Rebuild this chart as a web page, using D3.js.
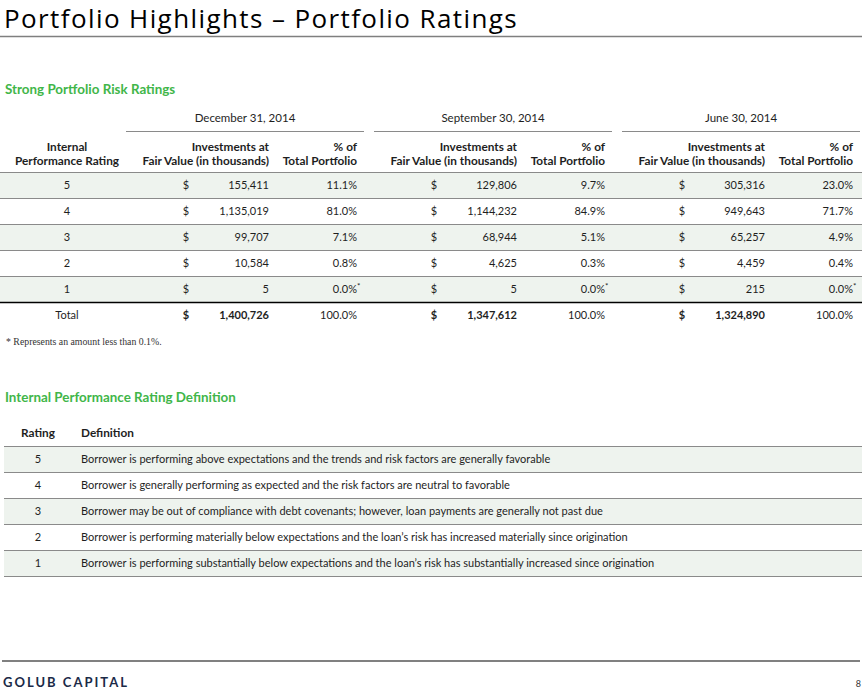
<!DOCTYPE html>
<html>
<head>
<meta charset="utf-8">
<script src="https://cdn.jsdelivr.net/npm/d3@7"></script>
<style>
  body { margin: 0; background: #fff; }
  svg { display: block; font-family: Lato, "Open Sans", sans-serif; }
</style>
</head>
<body>
<svg id="page"></svg>
<script>
// ---- data ----
const ratings = [5, 4, 3, 2, 1];
const periods = ['December 31, 2014', 'September 30, 2014', 'June 30, 2014'];
const fairValueDec = [155411, 1135019, 99707, 10584, 5];
const fairValueSep = [129806, 1144232, 68944, 4625, 5];
const fairValueJun = [305316, 949643, 65257, 4459, 215];
const pctDec = [11.1, 81.0, 7.1, 0.8, 0.0];
const pctSep = [9.7, 84.9, 5.1, 0.3, 0.0];
const pctJun = [23.0, 71.7, 4.9, 0.4, 0.0];
const totalValues = [1400726, 1347612, 1324890];
const totalPct = [100.0, 100.0, 100.0];
const lessThanTenth = [false, false, false, false, true];
const definitions = [
    'Borrower is performing above expectations and the trends and risk factors are generally favorable',
    'Borrower is generally performing as expected and the risk factors are neutral to favorable',
    'Borrower may be out of compliance with debt covenants; however, loan payments are generally not past due',
    'Borrower is performing materially below expectations and the loan\u2019s risk has increased materially since origination',
    'Borrower is performing substantially below expectations and the loan\u2019s risk has substantially increased since origination'
];

const values = [fairValueDec, fairValueSep, fairValueJun];
const pcts = [pctDec, pctSep, pctJun];

const width = 868;
const height = 693;
const green = '#41b649';
const shade = '#eef3ee';
const ink = '#1e1e1e';
const rule = '#8a8a8a';

const fmtValue = d3.format(',');
const fmtPct = d3.format('.1f');

const svg = d3.select('#page')
    .attr('width', width)
    .attr('height', height);

// ---- title ----
svg.append('text')
    .attr('x', 4)
    .attr('y', 28)
    .attr('font-family', '"Open Sans", sans-serif')
    .attr('font-size', 26)
    .attr('letter-spacing', 1.4)
    .attr('fill', '#000')
    .text('Portfolio Highlights \u2013 Portfolio Ratings');

svg.append('line')
    .attr('x1', 0).attr('x2', 862)
    .attr('y1', 36.5).attr('y2', 36.5)
    .attr('stroke', '#7f7f7f')
    .attr('stroke-width', 1.5);

svg.append('text')
    .attr('x', 5)
    .attr('y', 94)
    .attr('font-size', 13.4)
    .attr('font-weight', 'bold')
    .attr('fill', green)
    .text('Strong Portfolio Risk Ratings');

// ---- ratings table ----
const rows = ratings.concat(['Total']);

const y = d3.scaleBand()
    .domain(rows)
    .range([172, 172 + 26 * rows.length]);

const group = d3.scaleBand()
    .domain(periods)
    .range([126, 860])
    .paddingInner(10 / 248)
    .paddingOuter(0);

const col = {dollar: 60, value: 143, pct: 231};

// shaded rows
svg.append('g')
    .selectAll('rect')
    .data(ratings.filter(function(d, i) { return i % 2 === 0; }))
    .enter()
    .append('rect')
    .attr('x', 0)
    .attr('y', function(d) { return y(d); })
    .attr('width', 862)
    .attr('height', y.bandwidth())
    .attr('fill', shade);

// row separators
svg.append('g')
    .selectAll('line')
    .data(ratings)
    .enter()
    .append('line')
    .attr('x1', 0).attr('x2', 862)
    .attr('y1', function(d) { return y(d) + 0.5; })
    .attr('y2', function(d) { return y(d) + 0.5; })
    .attr('stroke', rule)
    .attr('stroke-width', 1);

svg.append('line')
    .attr('x1', 0).attr('x2', 862)
    .attr('y1', y('Total') + 0.5).attr('y2', y('Total') + 0.5)
    .attr('stroke', '#000')
    .attr('stroke-width', 1.5);

// group headers
const groups = svg.append('g')
    .selectAll('g')
    .data(periods)
    .enter()
    .append('g')
    .attr('transform', function(d) { return 'translate(' + group(d) + ',0)'; });

groups.append('text')
    .attr('x', group.bandwidth() / 2)
    .attr('y', 122)
    .attr('text-anchor', 'middle')
    .attr('font-size', 11.5)
    .attr('fill', ink)
    .text(function(d) { return d; });

groups.append('line')
    .attr('x1', 0).attr('x2', group.bandwidth())
    .attr('y1', 131.5).attr('y2', 131.5)
    .attr('stroke', rule)
    .attr('stroke-width', 1);

const headerLines = [151, 165];

function header(sel, x, anchor, lines) {
    sel.append('text')
        .attr('x', x)
        .attr('text-anchor', anchor)
        .attr('font-size', 11.8)
        .attr('font-weight', 'bold')
        .attr('fill', ink)
        .selectAll('tspan')
        .data(lines)
        .enter()
        .append('tspan')
        .attr('x', x)
        .attr('y', function(d, i) { return headerLines[i]; })
        .text(function(d) { return d; });
}

header(svg, 67, 'middle', ['Internal', 'Performance Rating']);
header(groups, col.value, 'end', ['Investments at', 'Fair Value (in thousands)']);
header(groups, col.pct, 'end', ['% of', 'Total Portfolio']);

// rating labels
svg.append('g')
    .selectAll('text')
    .data(rows)
    .enter()
    .append('text')
    .attr('x', 67)
    .attr('y', function(d) { return y(d) + y.bandwidth() / 2 + 4; })
    .attr('text-anchor', 'middle')
    .attr('font-size', 11)
    .attr('fill', ink)
    .text(function(d) { return d; });

// cells per period
groups.each(function(period, p) {
    const g = d3.select(this);
    const cells = ratings.map(function(r, i) {
        return {row: r, value: values[p][i], pct: pcts[p][i], star: lessThanTenth[i], total: false};
    });
    cells.push({row: 'Total', value: totalValues[p], pct: totalPct[p], star: false, total: true});

    const cell = g.selectAll('g.cell')
        .data(cells)
        .enter()
        .append('g')
        .attr('class', 'cell')
        .attr('transform', function(d) {
            return 'translate(0,' + (y(d.row) + y.bandwidth() / 2 + 4) + ')';
        })
        .attr('font-size', 11)
        .attr('fill', ink);

    cell.append('text')
        .attr('x', col.dollar)
        .attr('text-anchor', 'middle')
        .attr('font-weight', function(d) { return d.total ? 'bold' : 'normal'; })
        .text('$');

    cell.append('text')
        .attr('x', col.value)
        .attr('text-anchor', 'end')
        .attr('font-weight', function(d) { return d.total ? 'bold' : 'normal'; })
        .text(function(d) { return fmtValue(d.value); });

    cell.append('text')
        .attr('x', col.pct)
        .attr('text-anchor', 'end')
        .text(function(d) { return fmtPct(d.pct) + '%'; });

    cell.filter(function(d) { return d.star; })
        .append('text')
        .attr('x', col.pct)
        .attr('y', -4)
        .attr('font-size', 8)
        .text('*');
});

// footnote
svg.append('text')
    .attr('x', 6)
    .attr('y', 345)
    .attr('font-family', '"Liberation Serif", "DejaVu Serif", serif')
    .attr('font-size', 9.8)
    .attr('fill', '#333')
    .text('* Represents an amount less than 0.1%.');

// ---- definition table ----
svg.append('text')
    .attr('x', 5)
    .attr('y', 402)
    .attr('font-size', 13.4)
    .attr('font-weight', 'bold')
    .attr('fill', green)
    .text('Internal Performance Rating Definition');

const yDef = d3.scaleBand()
    .domain(ratings)
    .range([446, 446 + 26 * ratings.length]);

svg.append('text')
    .attr('x', 38)
    .attr('y', 437)
    .attr('text-anchor', 'middle')
    .attr('font-size', 11.8)
    .attr('font-weight', 'bold')
    .attr('fill', ink)
    .text('Rating');

svg.append('text')
    .attr('x', 81)
    .attr('y', 437)
    .attr('font-size', 11.8)
    .attr('font-weight', 'bold')
    .attr('fill', ink)
    .text('Definition');

const defRows = svg.append('g')
    .selectAll('g')
    .data(ratings)
    .enter()
    .append('g')
    .attr('transform', function(d) { return 'translate(0,' + yDef(d) + ')'; });

defRows.append('rect')
    .attr('x', 4)
    .attr('width', 858)
    .attr('height', yDef.bandwidth())
    .attr('fill', function(d, i) { return i % 2 === 0 ? shade : '#fff'; });

defRows.append('line')
    .attr('x1', 4).attr('x2', 862)
    .attr('y1', 0.5).attr('y2', 0.5)
    .attr('stroke', rule);

defRows.append('text')
    .attr('x', 38)
    .attr('y', yDef.bandwidth() / 2 + 4)
    .attr('text-anchor', 'middle')
    .attr('font-size', 11)
    .attr('fill', ink)
    .text(function(d) { return d; });

defRows.append('text')
    .attr('x', 81)
    .attr('y', yDef.bandwidth() / 2 + 4)
    .attr('font-size', 11)
    .attr('fill', ink)
    .text(function(d, i) { return definitions[i]; });

svg.append('line')
    .attr('x1', 4).attr('x2', 862)
    .attr('y1', yDef.range()[1] + 0.5).attr('y2', yDef.range()[1] + 0.5)
    .attr('stroke', rule);

// ---- footer ----
svg.append('line')
    .attr('x1', 2).attr('x2', 860)
    .attr('y1', 661).attr('y2', 661)
    .attr('stroke', '#808080')
    .attr('stroke-width', 2);

svg.append('text')
    .attr('x', 3)
    .attr('y', 687)
    .attr('font-size', 13)
    .attr('font-weight', 'bold')
    .attr('letter-spacing', 2)
    .attr('fill', '#1b2a47')
    .text('GOLUB CAPITAL');

svg.append('text')
    .attr('x', 861)
    .attr('y', 687)
    .attr('text-anchor', 'end')
    .attr('font-size', 9)
    .attr('fill', '#333')
    .text('8');
</script>
</body>
</html>
